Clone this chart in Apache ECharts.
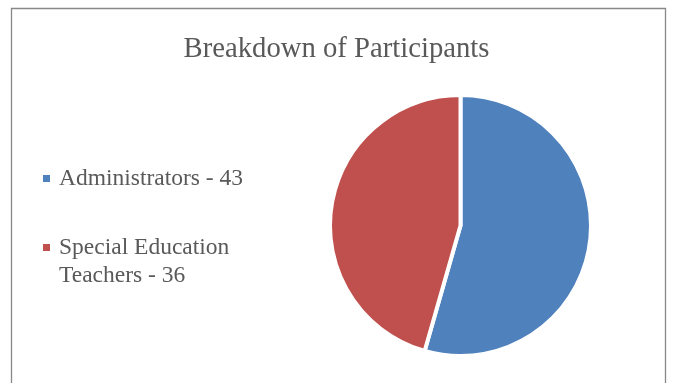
<!DOCTYPE html>
<html>
<head>
<meta charset="utf-8">
<script src="https://cdn.jsdelivr.net/npm/echarts@6/dist/echarts.min.js"></script>
<style>
  html, body { margin: 0; padding: 0; background: #ffffff; }
  #chart { width: 673px; height: 383px; }
</style>
</head>
<body>
<div id="chart"></div>
<script>
// Participant groups and their counts
const categories = ['Administrators', 'Special Education Teachers'];
const counts = [43, 36];
// Legend text lines shown next to each swatch (long name wrapped onto two lines)
const legendLines = [['Administrators - 43'], ['Special Education', 'Teachers - 36']];
const colors = ['#4F81BD', '#C0504D'];

const chart = echarts.init(document.getElementById('chart'), null, { renderer: 'canvas' });

const font = '"Liberation Serif", "Times New Roman", serif';
const lineH = 28;
// Top edge of each legend block
const legendTops = [159.5, 200.5];

const legends = categories.map((name, i) => {
  const lines = legendLines[i];
  // The swatch sits at the vertical middle of the text block, so pad
  // with blank lines above to keep it level with the first line.
  const pad = lines.length - 1;
  const rows = [];
  for (let k = 0; k < pad; k++) rows.push('{t|}');
  lines.forEach(l => rows.push('{t|' + l + '}'));
  return {
    orient: 'vertical',
    left: 38,
    top: legendTops[i],
    icon: 'rect',
    itemWidth: 7,
    itemHeight: 7,
    itemGap: 0,
    itemStyle: { borderWidth: 0 },
    selectedMode: false,
    data: [name],
    formatter: () => rows.join('\n'),
    textStyle: {
      fontFamily: font,
      fontSize: 23.5,
      lineHeight: lineH,
      color: '#595959',
      rich: {
        t: {
          fontFamily: font,
          fontSize: 23.5,
          lineHeight: lineH,
          color: '#595959',
          padding: [0, 0, 0, 4]
        }
      }
    }
  };
});

chart.setOption({
  animation: false,
  backgroundColor: '#ffffff',
  color: colors,
  title: {
    text: 'Breakdown of Participants',
    left: 'center',
    top: 30,
    textStyle: {
      fontFamily: font,
      fontSize: 28.7,
      fontWeight: 'normal',
      color: '#595959'
    }
  },
  legend: legends,
  graphic: [{
    type: 'rect',
    silent: true,
    shape: { x: 11.5, y: 8.5, width: 654, height: 400 },
    style: { fill: 'none', stroke: '#888888', lineWidth: 1.3 }
  }],
  series: [{
    type: 'pie',
    center: [460.5, 225.5],
    radius: 130.5,
    startAngle: 90,
    clockwise: true,
    label: { show: false },
    labelLine: { show: false },
    emphasis: { disabled: true },
    itemStyle: { borderColor: '#ffffff', borderWidth: 4 },
    data: categories.map((name, i) => ({ name: name, value: counts[i] }))
  }]
});
</script>
</body>
</html>
